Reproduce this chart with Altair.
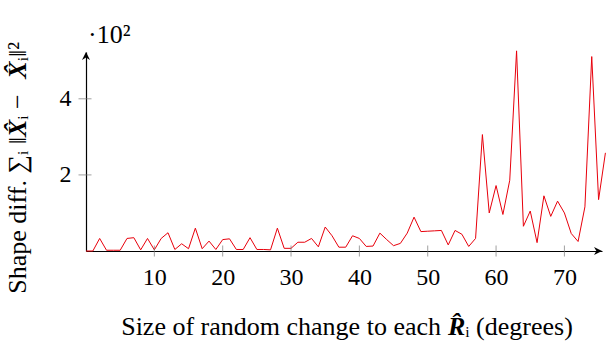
import altair as alt
import pandas as pd

# x: size of random change (degrees); y: shape difference (x 10^2)
deg = list(range(0, 77))
shape_diff = [
    0.00, 0.00, 0.33, 0.02, 0.02, 0.02, 0.33, 0.35, 0.03, 0.33,
    0.03, 0.33, 0.48, 0.04, 0.19, 0.06, 0.60, 0.06, 0.26, 0.04,
    0.30, 0.32, 0.04, 0.04, 0.35, 0.04, 0.04, 0.03, 0.60, 0.07,
    0.07, 0.23, 0.23, 0.33, 0.11, 0.63, 0.40, 0.10, 0.10, 0.40,
    0.33, 0.12, 0.13, 0.47, 0.30, 0.14, 0.20, 0.47, 0.89, 0.51,
    0.52, 0.53, 0.54, 0.16, 0.54, 0.44, 0.12, 0.33, 3.06, 1.00,
    1.72, 0.96, 1.86, 5.26, 0.65, 1.05, 0.22, 1.45, 0.91, 1.31,
    1.00, 0.46, 0.25, 1.16, 5.11, 1.35, 2.58,
]
x_ticks = [10, 20, 30, 40, 50, 60, 70]
y_ticks = [2, 4]
x_max = 75.5
y_max = 5.23

# title pieces (plain, bold-italic symbol, plain)
x_title_parts = ["Size of random change to each", "R̂", "ᵢ (degrees)"]
y_title_parts = ["Shape diff. ∑ᵢ ‖", "X̂", "ᵢ −", "X̂", "ᵢ‖²"]
multiplier = "·10²"

FONT = "Liberation Serif"
LFS = 24
TFS = 26
W_SYM = 0.667 * TFS  # advance of bold-italic R / X
W_MID = 41            # advance of "ᵢ − " with spacing
W_SP = 7              # a space

df = pd.DataFrame({"deg": deg, "diff": shape_diff})
xs = alt.Scale(domain=[0, x_max], nice=False, zero=False)
ys = alt.Scale(domain=[0, y_max], nice=False, zero=False)

x_axis = alt.Axis(values=x_ticks, ticks=False, grid=False, labelPadding=14,
                  labelFont=FONT, labelFontSize=LFS, labelColor="black",
                  domainColor="black", domainWidth=1.2, title=None)
y_axis = alt.Axis(values=y_ticks, ticks=False, grid=False, labelPadding=15,
                  labelFont=FONT, labelFontSize=LFS, labelColor="black",
                  domainColor="black", domainWidth=1.2, title=None)

line = alt.Chart(df).mark_line(color="#e8000b", strokeWidth=1, clip=False).encode(
    x=alt.X("deg:Q", scale=xs, axis=x_axis),
    y=alt.Y("diff:Q", scale=ys, axis=y_axis),
)

xt = alt.Chart(pd.DataFrame({"t": x_ticks})).mark_tick(
    orient="vertical", size=11, thickness=1, color="#777"
).encode(x=alt.X("t:Q", scale=xs, axis=x_axis), y=alt.value(199))

yt = alt.Chart(pd.DataFrame({"t": y_ticks})).mark_tick(
    orient="horizontal", size=13, thickness=1, color="#777"
).encode(y=alt.Y("t:Q", scale=ys, axis=y_axis), x=alt.value(-1))

arrow_path = "M0,0 L-2,-1 L-1.4,0 L-2,1 Z"
ax_arrow = alt.Chart(pd.DataFrame({"a": [x_max], "b": [0]})).mark_point(
    shape=arrow_path, size=64, filled=True, color="black", opacity=1
).encode(x=alt.X("a:Q", scale=xs, axis=x_axis), y=alt.Y("b:Q", scale=ys, axis=y_axis))

ay_arrow = alt.Chart(pd.DataFrame({"a": [0], "b": [y_max]})).mark_point(
    shape=arrow_path, size=64, filled=True, color="black", opacity=1, angle=270
).encode(x=alt.X("a:Q", scale=xs, axis=x_axis), y=alt.Y("b:Q", scale=ys, axis=y_axis))


def txt(s, x, y, align, angle=0, bi=False):
    kw = dict(font=FONT, fontSize=TFS, align=align, baseline="alphabetic",
              color="black", angle=angle)
    if bi:
        kw.update(fontStyle="italic", fontWeight="bold")
    return alt.Chart(pd.DataFrame({"s": [s]})).mark_text(**kw).encode(
        text="s:N", x=alt.value(x), y=alt.value(y))


mult = txt(multiplier, 2, -9, "left")

# x title: pieces joined at the bold-italic R
PX, BX = 362, 283
xa = txt(x_title_parts[0], PX - W_SP, BX, "right")
xb = txt(x_title_parts[1], PX, BX, "left", bi=True)
xc = txt(x_title_parts[2], PX + W_SYM, BX, "left")

# y title: rotated, reading upward
PY, BY = 85, -60
ya = txt(y_title_parts[0], BY, PY, "right", 270)
yb = txt(y_title_parts[1], BY, PY, "left", 270, bi=True)
yc = txt(y_title_parts[2], BY, PY - W_SYM, "left", 270)
yd = txt(y_title_parts[3], BY, PY - W_SYM - W_MID, "left", 270, bi=True)
ye = txt(y_title_parts[4], BY, PY - 2 * W_SYM - W_MID, "left", 270)

chart = alt.layer(line, xt, yt, ax_arrow, ay_arrow, mult,
                  xa, xb, xc, ya, yb, yc, yd, ye).properties(
    width=516, height=199,
    autosize=alt.AutoSizeParams(type="none"),
    padding={"left": 86, "top": 52, "right": 4, "bottom": 91},
).configure_view(stroke=None).configure_axis(
    labelFont=FONT, labelFontSize=LFS, labelColor="black")

chart.save("out.html", embed_options={"renderer": "svg", "actions": False})
